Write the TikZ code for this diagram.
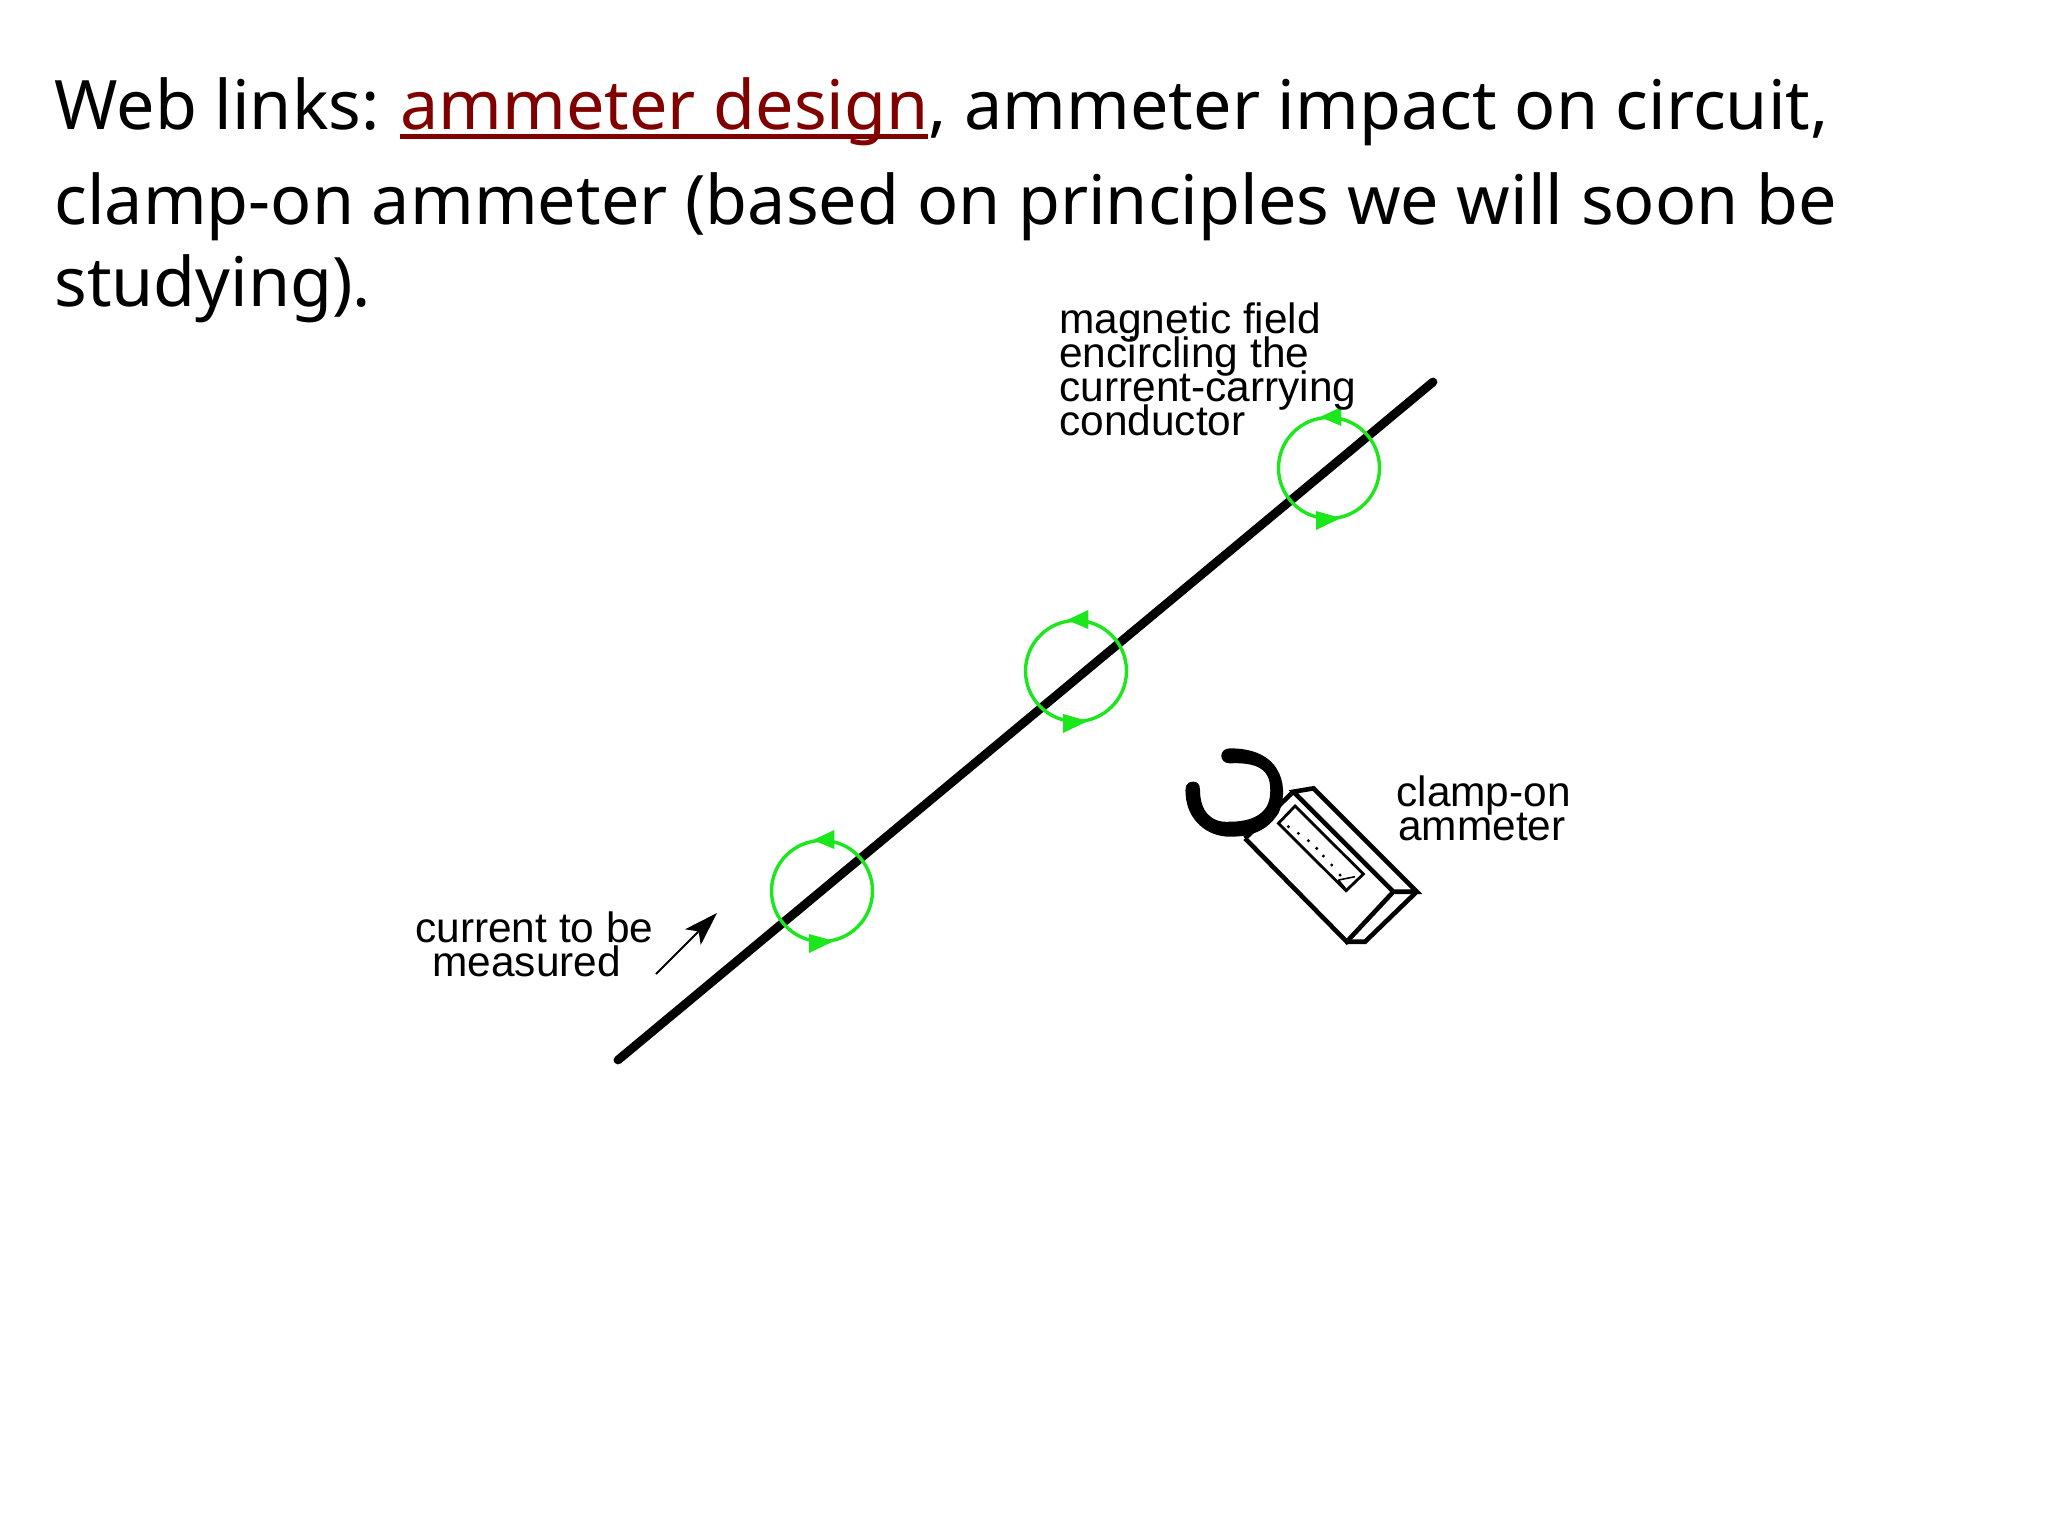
\documentclass[tikz,border=0pt]{standalone}
\usepackage{fontspec}
\setmainfont{Noto Sans}
\newfontfamily\labelfont{Liberation Sans}
\usetikzlibrary{arrows.meta}
\definecolor{linkred}{HTML}{800000}
\definecolor{fieldgreen}{HTML}{1CE61C}
\newcommand{\linkul}[1]{\setbox0=\hbox{#1}\leavevmode\rlap{\rule[-5pt]{\wd0}{2.6pt}}\box0}
\newcommand{\labfont}{\labelfont\fontsize{21.2}{17}\selectfont\setlength{\lineskiplimit}{-50pt}}
\tikzset{
  headline/.style={anchor=base west,inner sep=0pt,font=\fontsize{34.12}{40}\selectfont},
  lab/.style={anchor=north west,inner sep=0pt,align=left,font=\labfont},
  wire/.style={line width=4.4pt,line cap=round},
  clampbody/.style={line width=2.3pt,line join=miter},
  fieldloop/.pic={
    \draw[line width=1.7pt,fieldgreen] (0,0) circle[radius=50.5];
    \fill[fieldgreen] (12.3,-61) -- (12.3,-42) -- (-9,-51) -- cycle;
    \fill[fieldgreen] (-13,43) -- (-13,62) -- (12,50) -- cycle;
  }
}
\begin{document}
\begin{tikzpicture}[x=0.5pt,y=-0.5pt]
\useasboundingbox (0,0) rectangle (2048,1536);
\node[headline] (l1) at (54,129) {Web links:\kern-1.5pt{} {\color{linkred}\linkul{ammeter design}}, ammeter impact on circuit,};
\node[headline] (l2) at (54,224) {clamp-on ammeter (based on principles we will soon be};
\node[headline] (l3) at (54,306) {studying).};

\coordinate (wireA) at (618,1060);
\coordinate (wireB) at (1433,382);
\draw[wire] (wireA) -- (wireB);
\pic at (822,891) {fieldloop};
\pic at (1076,671) {fieldloop};
\pic at (1329,468) {fieldloop};

\node[lab] (mag) at (1059,302) {magnetic field\\encircling the\\current-carrying\\conductor};
\node[lab] (cur) at (415,911) {current to be\\\hspace*{8.5pt}measured};
\node[lab] (amm) at (1396,775) {clamp-on\\\hspace*{1pt}ammeter};

\coordinate (arrA) at (656,974);
\coordinate (arrB) at (717,913);
\draw[line width=1pt,-{Stealth[length=17pt,width=11pt,inset=4pt]}] (arrA) -- (arrB);

\begin{scope}[shift={(1150,720)},x=0.1667pt,y=-0.1667pt]
  \draw[clampbody] (285,355) -- (590,665) -- (730,515) -- (430,215) -- (490,205) -- (800,515) -- (730,515);
  \draw[clampbody] (430,215) -- (285,355);
  \draw[clampbody] (590,665) -- (645,665) -- (800,515);
  \draw[line width=1.4pt] (385,310) -- (435,258) -- (640,462) -- (588,512) -- cycle;
  \draw[line width=0.8pt] (565,480) -- (615,470) (590,510) -- (565,480);
  \foreach \dx/\dy in {415/320,445/340,475/362,500/385,520/408,545/435,570/465}
    \fill (\dx,\dy) circle[radius=5];
  \fill (130,185) .. controls (105,185) and (105,205) .. (107,225)
     .. controls (112,300) and (170,350) .. (240,350)
     .. controls (300,350) and (350,335) .. (385,280) .. controls (415,220) and (410,85) .. (240,85)
     .. controls (205,85) and (205,130) .. (240,130)
     .. controls (345,125) and (365,165) .. (360,225)
     .. controls (355,285) and (300,305) .. (240,305)
     .. controls (180,310) and (150,270) .. (150,210) .. controls (150,190) and (140,185) .. (130,185) -- cycle;
\end{scope}
\end{tikzpicture}
\end{document}
